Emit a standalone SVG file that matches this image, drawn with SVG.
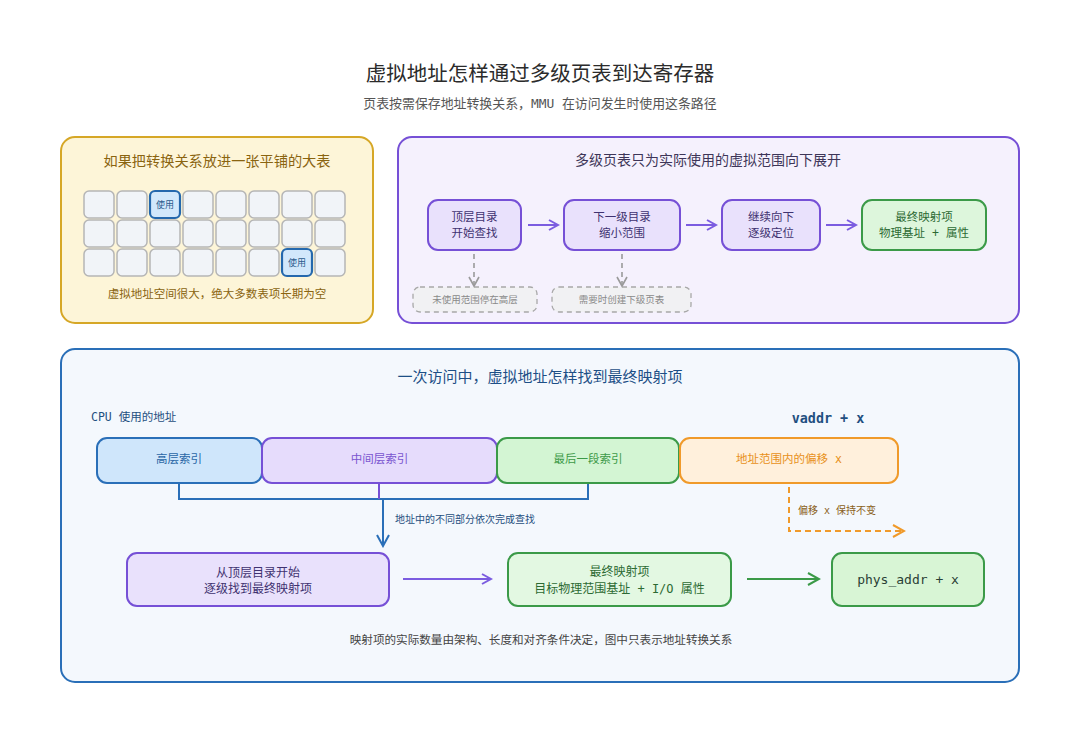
<svg xmlns="http://www.w3.org/2000/svg" width="1080" height="743" viewBox="0 0 1080 743">
<defs>
<style>
text{font-family:"Noto Sans CJK SC","Noto Sans",sans-serif;}
.mono{font-family:"DejaVu Sans Mono","Noto Sans CJK SC",monospace;}
.title{font-size:20.5px;fill:#2b2b2b;}
.sub{font-size:12.9px;fill:#555;}
.cell{fill:#f1f4f8;stroke:#b5b5b5;stroke-width:1.5;}
.used{fill:#d2e8fb;stroke:#2468ad;stroke-width:2.2;}
.usedt{font-size:9px;fill:#2a5a8c;}
.pbox{fill:#e9e1fc;stroke:#7650d6;stroke-width:2;}
.gbox{fill:#ddf6dc;stroke:#3b9a48;stroke-width:2;}
.dbox{fill:#f1f1f3;stroke:#a8a8a8;stroke-width:1.3;stroke-dasharray:5 4;}
.pt{font-size:11.5px;fill:#3f3270;}
.gt{font-size:11.5px;fill:#2c6a33;}
.dt{font-size:9.5px;fill:#8a8a8a;}
</style>
<marker id="ap" markerWidth="12" markerHeight="12" refX="9" refY="6" orient="auto" markerUnits="userSpaceOnUse"><path d="M1,1 L10,6 L1,11" fill="none" stroke="#7b5ce0" stroke-width="2"/></marker>
<marker id="ag" markerWidth="14" markerHeight="14" refX="11" refY="7" orient="auto" markerUnits="userSpaceOnUse"><path d="M1,1 L12,7 L1,13" fill="none" stroke="#3b9a48" stroke-width="2"/></marker>
<marker id="agr" markerWidth="12" markerHeight="12" refX="9" refY="6" orient="auto" markerUnits="userSpaceOnUse"><path d="M1,1 L10,6 L1,11" fill="none" stroke="#9a9a9a" stroke-width="1.6"/></marker>
<marker id="ab" markerWidth="14" markerHeight="14" refX="11" refY="7" orient="auto" markerUnits="userSpaceOnUse"><path d="M1,1 L12,7 L1,13" fill="none" stroke="#2a6fb8" stroke-width="2"/></marker>
<marker id="ao" markerWidth="14" markerHeight="14" refX="11" refY="7" orient="auto" markerUnits="userSpaceOnUse"><path d="M1,1 L12,7 L1,13" fill="none" stroke="#f09a2a" stroke-width="2"/></marker>
</defs>
<rect width="1080" height="743" fill="#ffffff"/>

<g id="header">
<text x="540" y="81" text-anchor="middle" class="title">虚拟地址怎样通过多级页表到达寄存器</text>
<text x="540" y="108" text-anchor="middle" class="sub mono">页表按需保存地址转换关系，MMU 在访问发生时使用这条路径</text>
</g>

<g id="panel-flat">
<rect x="61" y="137" width="312" height="186" rx="14" fill="#fdf5d8" stroke="#d6a726" stroke-width="2"/>
<text x="217" y="166" text-anchor="middle" font-size="14.2" fill="#8a6410">如果把转换关系放进一张平铺的大表</text>
<g id="grid">
<rect class="cell" x="84" y="191" width="30" height="27" rx="5"/>
<rect class="cell" x="117" y="191" width="30" height="27" rx="5"/>
<rect class="used" x="150" y="191" width="30" height="27" rx="5"/>
<rect class="cell" x="183" y="191" width="30" height="27" rx="5"/>
<rect class="cell" x="216" y="191" width="30" height="27" rx="5"/>
<rect class="cell" x="249" y="191" width="30" height="27" rx="5"/>
<rect class="cell" x="282" y="191" width="30" height="27" rx="5"/>
<rect class="cell" x="315" y="191" width="30" height="27" rx="5"/>
<rect class="cell" x="84" y="220" width="30" height="27" rx="5"/>
<rect class="cell" x="117" y="220" width="30" height="27" rx="5"/>
<rect class="cell" x="150" y="220" width="30" height="27" rx="5"/>
<rect class="cell" x="183" y="220" width="30" height="27" rx="5"/>
<rect class="cell" x="216" y="220" width="30" height="27" rx="5"/>
<rect class="cell" x="249" y="220" width="30" height="27" rx="5"/>
<rect class="cell" x="282" y="220" width="30" height="27" rx="5"/>
<rect class="cell" x="315" y="220" width="30" height="27" rx="5"/>
<rect class="cell" x="84" y="249" width="30" height="27" rx="5"/>
<rect class="cell" x="117" y="249" width="30" height="27" rx="5"/>
<rect class="cell" x="150" y="249" width="30" height="27" rx="5"/>
<rect class="cell" x="183" y="249" width="30" height="27" rx="5"/>
<rect class="cell" x="216" y="249" width="30" height="27" rx="5"/>
<rect class="cell" x="249" y="249" width="30" height="27" rx="5"/>
<rect class="used" x="282" y="249" width="30" height="27" rx="5"/>
<rect class="cell" x="315" y="249" width="30" height="27" rx="5"/>
<text x="165" y="208" text-anchor="middle" class="usedt">使用</text>
<text x="297" y="266" text-anchor="middle" class="usedt">使用</text>
</g>
<text x="217" y="298" text-anchor="middle" font-size="11.5" fill="#8a6410">虚拟地址空间很大，绝大多数表项长期为空</text>
</g>

<g id="panel-multi">
<rect x="398" y="137" width="621" height="186" rx="14" fill="#f5f1fd" stroke="#7650d6" stroke-width="2"/>
<text x="708" y="165" text-anchor="middle" font-size="14" fill="#3d3558">多级页表只为实际使用的虚拟范围向下展开</text>
</g>
<g id="n-top">
<rect class="pbox" x="428" y="200" width="93" height="50" rx="10"/>
<text x="474.5" y="221" text-anchor="middle" class="pt">顶层目录</text>
<text x="474.5" y="237" text-anchor="middle" class="pt">开始查找</text>
</g>
<g id="n-next">
<rect class="pbox" x="564" y="200" width="116" height="50" rx="10"/>
<text x="622" y="221" text-anchor="middle" class="pt">下一级目录</text>
<text x="622" y="237" text-anchor="middle" class="pt">缩小范围</text>
</g>
<g id="n-cont">
<rect class="pbox" x="722" y="200" width="98" height="50" rx="10"/>
<text x="771" y="221" text-anchor="middle" class="pt">继续向下</text>
<text x="771" y="237" text-anchor="middle" class="pt">逐级定位</text>
</g>
<g id="n-final">
<rect class="gbox" x="862" y="200" width="124" height="50" rx="10"/>
<text x="924" y="221" text-anchor="middle" class="gt">最终映射项</text>
<text x="924" y="237" text-anchor="middle" class="gt mono" xml:space="preserve">物理基址 + 属性</text>
</g>
<g id="n-unused">
<rect class="dbox" x="413" y="287" width="124" height="25" rx="7"/>
<text x="475" y="303" text-anchor="middle" class="dt">未使用范围停在高层</text>
</g>
<g id="n-create">
<rect class="dbox" x="552" y="287" width="139" height="25" rx="7"/>
<text x="621.5" y="303" text-anchor="middle" class="dt">需要时创建下级页表</text>
</g>

<g id="panel-access">
<rect x="61" y="349" width="958" height="333" rx="14" fill="#f4f8fd" stroke="#2a6fb8" stroke-width="2"/>
<text x="540" y="382" text-anchor="middle" font-size="15" fill="#1d4f86">一次访问中，虚拟地址怎样找到最终映射项</text>
<text x="91" y="421" font-size="11.5" fill="#1f4f80" class="mono" xml:space="preserve">CPU 使用的地址</text>
<text x="828" y="423" text-anchor="middle" class="mono" font-size="13.4" font-weight="bold" fill="#1f4f80">vaddr + x</text>
</g>
<g id="seg-high">
<rect x="97" y="438" width="165" height="45" rx="10" fill="#cfe6fb" stroke="#2a6fb8" stroke-width="2"/>
<text x="179" y="463" text-anchor="middle" font-size="11.5" fill="#2a66a6">高层索引</text>
</g>
<g id="seg-mid">
<rect x="262" y="438" width="235" height="45" rx="10" fill="#e6dcfc" stroke="#7650d6" stroke-width="2"/>
<text x="379.5" y="463" text-anchor="middle" font-size="11.5" fill="#7a55d0">中间层索引</text>
</g>
<g id="seg-last">
<rect x="497" y="438" width="182" height="45" rx="10" fill="#d3f5d3" stroke="#3b9a48" stroke-width="2"/>
<text x="588" y="463" text-anchor="middle" font-size="11.5" fill="#3d9a48">最后一段索引</text>
</g>
<g id="seg-offset">
<rect x="680" y="438" width="218" height="45" rx="10" fill="#fff0dc" stroke="#f09a2a" stroke-width="2"/>
<text x="789" y="463" text-anchor="middle" font-size="11.5" fill="#e8901a" class="mono" xml:space="preserve">地址范围内的偏移 x</text>
</g>
<g id="n-walk">
<rect class="pbox" x="127" y="553" width="262" height="53" rx="10"/>
<text x="258" y="577" text-anchor="middle" font-size="12" fill="#3f3270">从顶层目录开始</text>
<text x="258" y="593" text-anchor="middle" font-size="12" fill="#3f3270">逐级找到最终映射项</text>
</g>
<g id="n-entry">
<rect x="508" y="553" width="223" height="53" rx="10" fill="#e3f8e2" stroke="#3b9a48" stroke-width="2"/>
<text x="619.5" y="576" text-anchor="middle" font-size="12" fill="#2c6a33">最终映射项</text>
<text x="619.5" y="593" text-anchor="middle" font-size="12" fill="#2c6a33" class="mono" xml:space="preserve">目标物理范围基址 + I/O 属性</text>
</g>
<g id="n-phys">
<rect x="832" y="553" width="152" height="53" rx="10" fill="#d8f5d5" stroke="#3b9a48" stroke-width="2"/>
<text x="908" y="584" text-anchor="middle" class="mono" font-size="13" fill="#2b3f35">phys_addr + x</text>
</g>
<text x="541" y="644" text-anchor="middle" font-size="11.6" fill="#444">映射项的实际数量由架构、长度和对齐条件决定，图中只表示地址转换关系</text>

<g id="connectors" fill="none">
<line x1="528" y1="225" x2="557" y2="225" stroke="#7b5ce0" stroke-width="2" marker-end="url(#ap)"/>
<line x1="686" y1="225" x2="715" y2="225" stroke="#7b5ce0" stroke-width="2" marker-end="url(#ap)"/>
<line x1="826" y1="225" x2="855" y2="225" stroke="#7b5ce0" stroke-width="2" marker-end="url(#ap)"/>
<line x1="474" y1="254" x2="474" y2="285" stroke="#9a9a9a" stroke-width="1.6" stroke-dasharray="5 4" marker-end="url(#agr)"/>
<line x1="622" y1="254" x2="622" y2="285" stroke="#9a9a9a" stroke-width="1.6" stroke-dasharray="5 4" marker-end="url(#agr)"/>
<polyline points="179,484 179,499 588,499 588,484" stroke="#2a6fb8" stroke-width="2"/>
<line x1="379" y1="484" x2="379" y2="499" stroke="#7650d6" stroke-width="2"/>
<line x1="383" y1="499" x2="383" y2="545" stroke="#2a6fb8" stroke-width="2" marker-end="url(#ab)"/>
<polyline points="789,487 789,531 903,531" stroke="#f09a2a" stroke-width="2" stroke-dasharray="6 4" marker-end="url(#ao)"/>
<line x1="403" y1="579" x2="490" y2="579" stroke="#7b5ce0" stroke-width="2" marker-end="url(#ap)"/>
<line x1="747" y1="579" x2="818" y2="579" stroke="#3b9a48" stroke-width="2.2" marker-end="url(#ag)"/>
</g>
<text x="395" y="523" font-size="10" fill="#1f4f80">地址中的不同部分依次完成查找</text>
<text x="798" y="514" font-size="10" fill="#8a6020" class="mono" xml:space="preserve">偏移 x 保持不变</text>
</svg>
